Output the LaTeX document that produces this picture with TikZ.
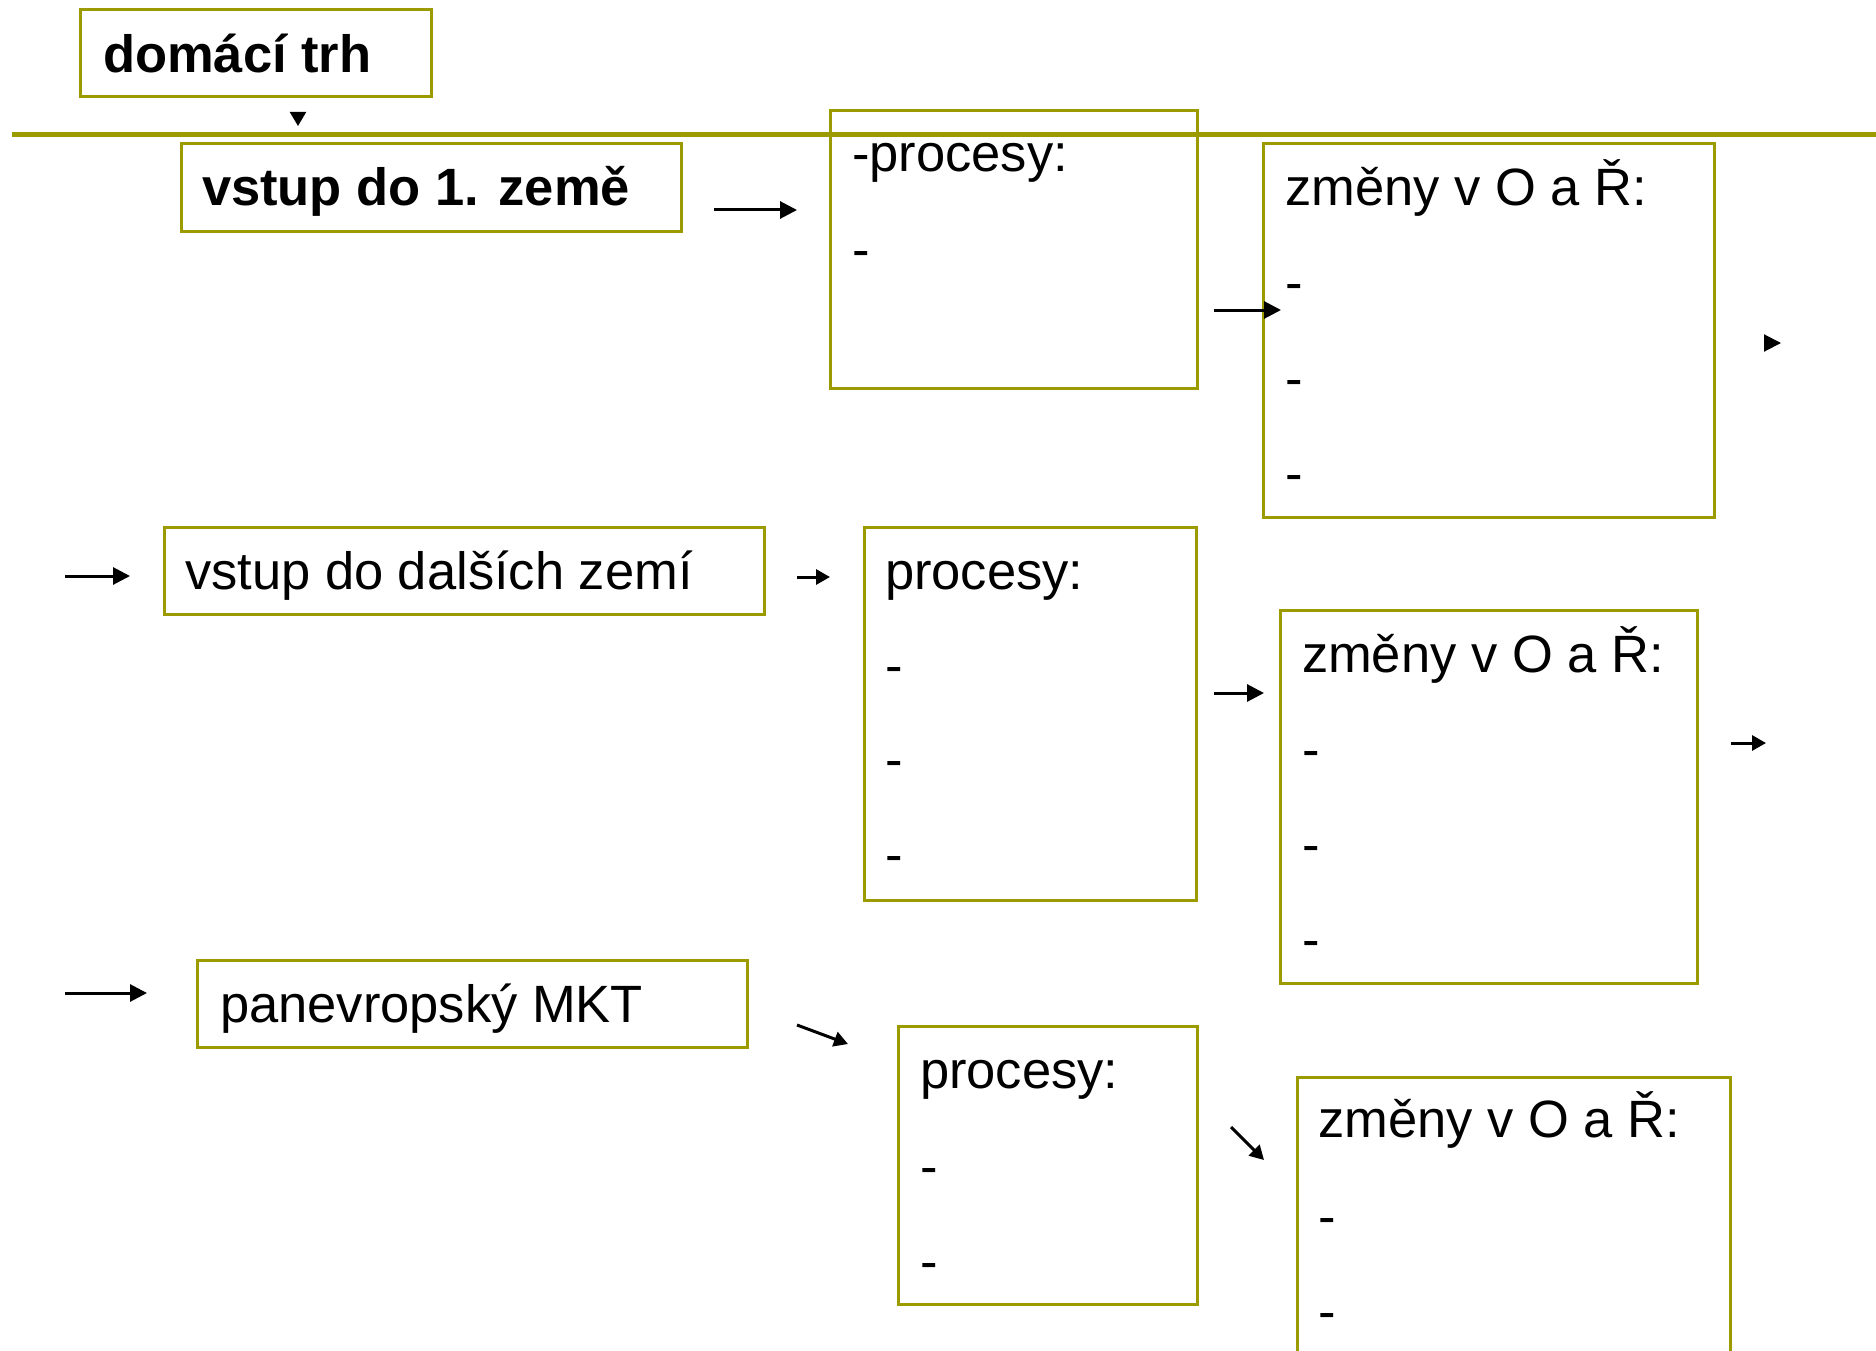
\documentclass[tikz,border=0pt]{standalone}
\usepackage{fontspec}
\setmainfont{Liberation Sans}
\usetikzlibrary{arrows.meta,fit}
\definecolor{olive}{RGB}{155,155,0}
\begin{document}
\begin{tikzpicture}[x=1pt,y=-1pt,
  box/.style={draw=olive,line width=3pt,inner sep=0pt,outer sep=0pt,rectangle},
  txt/.style={anchor=base west,inner sep=0pt,outer sep=0pt,font=\fontsize{52.5}{60}\selectfont},
  btxt/.style={txt,font=\fontsize{52.5}{60}\selectfont\bfseries},
  arr/.style={line width=3pt,-{Triangle[length=17pt,width=17pt]}},
  sarr/.style={line width=3pt,-{Triangle[length=14pt,width=15pt]}}]
\useasboundingbox (0,0) rectangle (1876,1351);
\clip (0,0) rectangle (1876,1351);
\fill[white] (0,0) rectangle (1876,1351);
% divider line
\coordinate (ls) at (12,135);
\coordinate (le) at (1876,135);
\draw[olive,line width=5pt] (ls) -- (le);
% boxes
\node[box,fit={(80,10) (431,97)}] (D) {};
\node[box,fit={(181,144) (681,231)}] (V1) {};
\node[box,fit={(830,111) (1197,388)}] (P1) {};
\node[box,fit={(1263,144) (1714,517)}] (Z1) {};
\node[box,fit={(164,527) (764,614)}] (V2) {};
\node[box,fit={(864,527) (1196,900)}] (P2) {};
\node[box,fit={(1280,610) (1697,983)}] (Z2) {};
\node[box,fit={(197,960) (747,1047)}] (M) {};
\node[box,fit={(898,1026) (1197,1304)}] (P3) {};
\node[box,fit={(1297,1077) (1730,1420)}] (Z3) {};
% texts
\node[btxt] (tD) at (103,73) {domácí trh};
\node[btxt] (tV1) at (202,206) {vstup do 1. země};
\node[txt] (tV2) at (185,589) {vstup do dalších zemí};
\node[txt] (tM) at (220,1022) {panevropský MKT};
\node[txt] (tP1a) at (852,172) {-procesy:};
\node[txt] (tP1b) at (852,267) {-};
\node[txt] (tZ1a) at (1285,205) {změny v O a Ř:};
\node[txt] (tZ1b) at (1285,300) {-};
\node[txt] (tZ1c) at (1285,396) {-};
\node[txt] (tZ1d) at (1285,491) {-};
\node[txt] (tP2a) at (885,589) {procesy:};
\node[txt] (tP2b) at (885,683) {-};
\node[txt] (tP2c) at (885,777) {-};
\node[txt] (tP2d) at (885,872) {-};
\node[txt] (tZ2a) at (1302,672) {změny v O a Ř:};
\node[txt] (tZ2b) at (1302,767) {-};
\node[txt] (tZ2c) at (1302,862) {-};
\node[txt] (tZ2d) at (1302,957) {-};
\node[txt] (tP3a) at (920,1088) {procesy:};
\node[txt] (tP3b) at (920,1184) {-};
\node[txt] (tP3c) at (920,1279) {-};
\node[txt] (tZ3a) at (1318,1137) {změny v O a Ř:};
\node[txt] (tZ3b) at (1318,1234) {-};
\node[txt] (tZ3c) at (1318,1329) {-};
% arrow end points
\coordinate (h0s) at (298,112); \coordinate (h0e) at (298,126);
\coordinate (a1s) at (714,210); \coordinate (a1e) at (797,210);
\coordinate (a2s) at (1214,310); \coordinate (a2e) at (1281,310);
\coordinate (a3s) at (1764,343); \coordinate (a3e) at (1781,343);
\coordinate (a4s) at (65,576); \coordinate (a4e) at (130,576);
\coordinate (a5s) at (797,577); \coordinate (a5e) at (830,577);
\coordinate (a6s) at (1214,693); \coordinate (a6e) at (1264,693);
\coordinate (a7s) at (1731,743); \coordinate (a7e) at (1766,743);
\coordinate (a8s) at (65,993); \coordinate (a8e) at (147,993);
\coordinate (a9s) at (797,1025); \coordinate (a9e) at (848,1044);
\coordinate (a10s) at (1231,1127); \coordinate (a10e) at (1264,1160);
% arrows
\draw[line width=2pt,-{Triangle[length=14pt,width=16pt]}] (h0s) -- (h0e);
\draw[arr] (a1s) -- (a1e);
\draw[arr] (a2s) -- (a2e);
\draw[line width=2pt,-{Triangle[length=17pt,width=17pt]}] (a3s) -- (a3e);
\draw[arr] (a4s) -- (a4e);
\draw[sarr] (a5s) -- (a5e);
\draw[arr] (a6s) -- (a6e);
\draw[sarr] (a7s) -- (a7e);
\draw[arr] (a8s) -- (a8e);
\draw[sarr] (a9s) -- (a9e);
\draw[sarr] (a10s) -- (a10e);
\end{tikzpicture}
\end{document}
